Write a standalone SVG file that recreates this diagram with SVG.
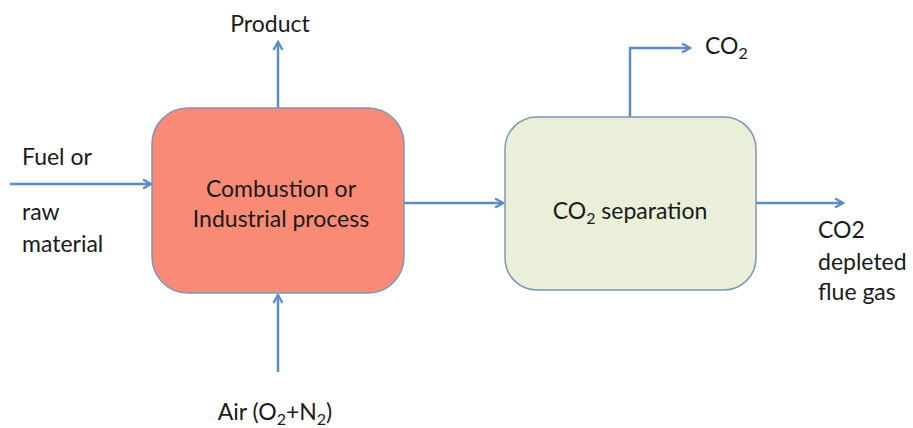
<svg xmlns="http://www.w3.org/2000/svg" width="913" height="428" viewBox="0 0 913 428">
<style>
.t{font-family:Lato,"Open Sans","Liberation Sans",sans-serif;font-size:23px;fill:#1a1a1a}
.s{font-size:16px}
.c{stroke:#5b8cc4;stroke-width:2.5;fill:none;marker-end:url(#ah)}
.n{stroke:#7f95b4;stroke-width:1.5}
</style>
<defs>
<marker id="ah" viewBox="0 0 10 10" refX="8" refY="5" markerWidth="4.5" markerHeight="4.5" orient="auto" markerUnits="strokeWidth">
<path d="M1,1 L8,5 L1,9" fill="none" stroke="#5b8cc4" stroke-width="2"/>
</marker>
</defs>
<rect width="913" height="428" fill="#fff"/>
<g id="connectors">
<path class="c" d="M278,108 V42"/>
<path class="c" d="M10,184 H151"/>
<path class="c" d="M278,372 V295"/>
<path class="c" d="M404,203 H503"/>
<path class="c" d="M630,117 V48 H690"/>
<path class="c" d="M756,203 H843"/>
</g>
<g id="combustion">
<rect class="n" x="152" y="108" width="252" height="185" rx="36" fill="#f98b76"/>
<text class="t" x="281" y="197" text-anchor="middle">Combustion or</text>
<text class="t" x="281" y="227" text-anchor="middle">Industrial process</text>
</g>
<g id="separation">
<rect class="n" x="505" y="117" width="251" height="173" rx="32" fill="#e9efd8"/>
<text class="t" x="630" y="219" text-anchor="middle">CO<tspan class="s" dy="5">2</tspan><tspan dy="-5"> separation</tspan></text>
</g>
<g id="labels">
<text class="t" x="270" y="32" text-anchor="middle">Product</text>
<text class="t" x="22" y="165">Fuel or</text>
<text class="t" x="22" y="220">raw</text>
<text class="t" x="22" y="252">material</text>
<text class="t" x="275" y="420" text-anchor="middle">Air (O<tspan class="s" dy="5">2</tspan><tspan dy="-5">+N</tspan><tspan class="s" dy="5">2</tspan><tspan dy="-5">)</tspan></text>
<text class="t" x="705" y="54">CO<tspan class="s" dy="5">2</tspan></text>
<text class="t" x="818" y="238">CO2</text>
<text class="t" x="818" y="270">depleted</text>
<text class="t" x="818" y="300">flue gas</text>
</g>
</svg>
